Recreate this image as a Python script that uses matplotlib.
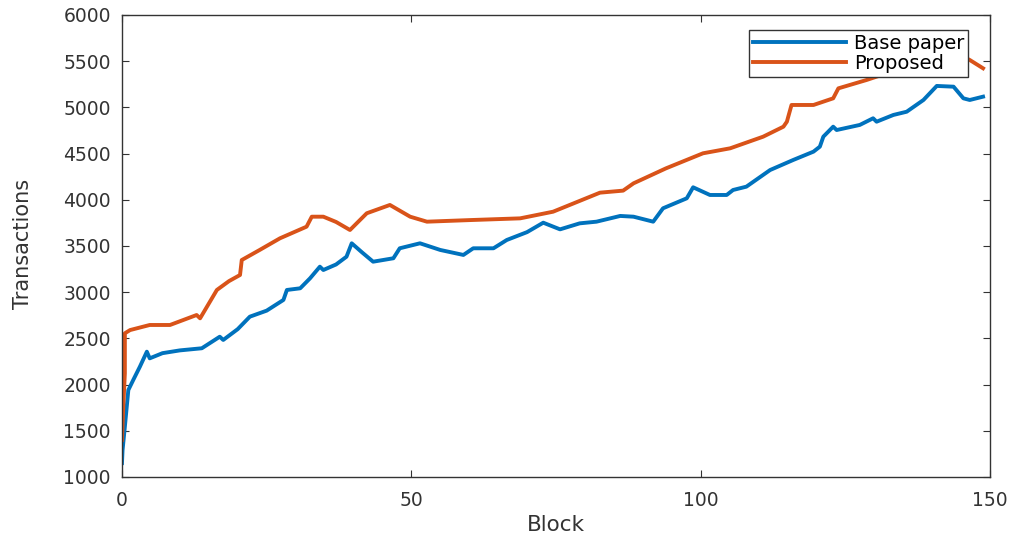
import matplotlib
matplotlib.use("Agg")
import matplotlib.pyplot as plt

# Base paper (blue)
base_x = [0, 0.1, 0.5, 1.1, 1.95, 3.1, 4.3, 4.8, 7, 10, 13.8, 16.9, 17.5, 20, 22.1,
          25, 27.9, 28.5, 30.8, 32.5, 34.2, 34.8, 37, 38.8, 39.7, 41.5, 43.4, 46.9,
          48.0, 51.5, 55, 59, 60.7, 64.2, 66.5, 70, 72.8, 75.7, 79.1, 82, 86.1, 88.4,
          91.8, 93.5, 97.6, 98.7, 101.6, 104.5, 105.6, 107.9, 112, 116, 119.5, 120.6,
          121.2, 122.9, 123.5, 127.5, 129.8, 130.4, 133.3, 135.6, 138.5, 140.8, 143.7,
          145.4, 146.5, 148.8]
base_y = [1150, 1290, 1544, 1941, 2050, 2194, 2356, 2284, 2340, 2370, 2393, 2518, 2483,
          2600, 2735, 2800, 2916, 3024, 3042, 3150, 3276, 3240, 3300, 3384, 3529, 3430,
          3330, 3367, 3475, 3529, 3457, 3403, 3475, 3475, 3565, 3650, 3752, 3680, 3745,
          3763, 3825, 3817, 3763, 3908, 4016, 4135, 4052, 4052, 4106, 4142, 4322, 4431,
          4521, 4575, 4683, 4791, 4755, 4810, 4882, 4845, 4918, 4953, 5080, 5232, 5224,
          5098, 5080, 5116]

# Proposed (orange)
prop_x = [0, 0.2, 0.5, 0.5, 1.4, 4.8, 8.3, 12.9, 13.5, 16.4, 18.5, 20.4, 20.7, 23.8,
          27.3, 31.9, 32.8, 34.8, 37, 39.4, 42.3, 46.3, 49.8, 52.7, 60, 68.8, 74.5, 78,
          82.6, 86.6, 88.4, 94, 100.4, 105.1, 110.8, 114.3, 114.9, 115.7, 119.5, 122.9,
          123.8, 128.7, 132.1, 136, 140, 144, 146.5, 148.8]
prop_y = [1400, 1725, 2122, 2555, 2590, 2645, 2645, 2753, 2717, 3024, 3120, 3186, 3348,
          3457, 3583, 3709, 3817, 3817, 3760, 3673, 3854, 3944, 3817, 3763, 3780, 3799,
          3871, 3960, 4077, 4099, 4178, 4340, 4503, 4557, 4683, 4791, 4845, 5026, 5026,
          5098, 5206, 5297, 5368, 5420, 5500, 5590, 5513, 5423]

x_ticks = [0, 50, 100, 150]
y_ticks = list(range(1000, 6001, 500))

plt.rcParams['font.family'] = ['DejaVu Sans']

fig = plt.figure(figsize=(10.13, 5.33), dpi=100)
ax = fig.add_axes([0.1204, 0.1051, 0.8569, 0.8668])

ax.plot(base_x, base_y, color='#0072BD', lw=2.8, label='Base paper')
ax.plot(prop_x, prop_y, color='#D95319', lw=2.8, label='Proposed')

ax.set_xlim(0, 150)
ax.set_ylim(1000, 6000)
ax.set_xticks(x_ticks)
ax.set_yticks(y_ticks)
ax.tick_params(direction='in', top=True, right=True, labelsize=13.5,
               colors='#333333', length=5, width=0.8)
ax.tick_params(axis='y', pad=8)
ax.tick_params(axis='x', pad=10)
for s in ax.spines.values():
    s.set_color('#333333')
    s.set_linewidth(1.0)

ax.set_xlabel('Block', fontsize=15.5, color='#333333')
ax.set_ylabel('Transactions', fontsize=15, color='#333333')
ax.xaxis.set_label_coords(0.5, -0.082)
ax.yaxis.set_label_coords(-0.1025, 0.505)

leg = ax.legend(loc='upper right', bbox_to_anchor=(0.9747, 0.9675), fontsize=14,
                handlelength=4.8, fancybox=False, framealpha=1, edgecolor='#333333',
                borderpad=0.2, labelspacing=0.05, handletextpad=0.4, borderaxespad=0)
leg.get_frame().set_linewidth(1.0)

fig.savefig('out.png', dpi=100)
